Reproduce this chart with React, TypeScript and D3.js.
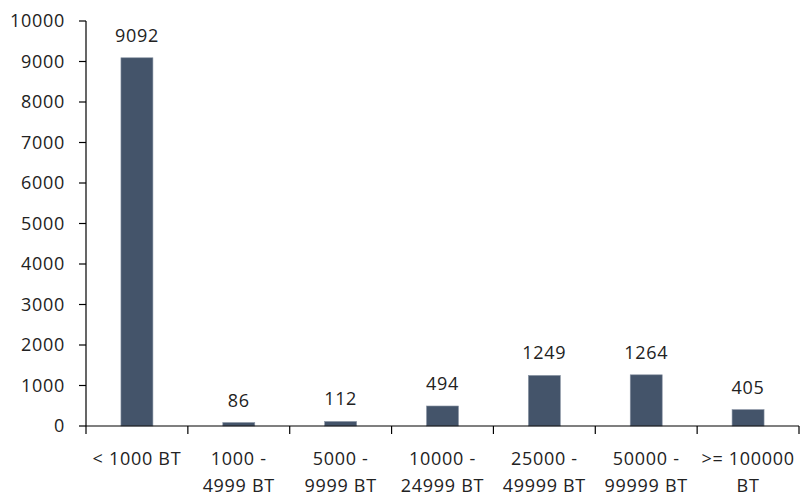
import React from "react";
import * as d3 from "d3";

const categories: string[][] = [
  ["< 1000 BT"],
  ["1000 -", "4999 BT"],
  ["5000 -", "9999 BT"],
  ["10000 -", "24999 BT"],
  ["25000 -", "49999 BT"],
  ["50000 -", "99999 BT"],
  [">= 100000", "BT"],
];
const counts: number[] = [9092, 86, 112, 494, 1249, 1264, 405];
const yTicks: number[] = [0, 1000, 2000, 3000, 4000, 5000, 6000, 7000, 8000, 9000, 10000];

const W = 803;
const H = 497;
const FONT = "'Open Sans', Tahoma, sans-serif";
const FS = 18;
const LS = 0.7;
const INK = "#222222";
const BAR = "#44546A";

export default function App() {
  const left = 86;
  const right = 799;
  const top = 21;
  const bottom = 426;

  const keys = categories.map((_, i) => String(i));
  const x = d3.scaleBand<string>().domain(keys).range([left, right]).paddingInner(0.686).paddingOuter(0.343);
  const band = d3.scaleBand<string>().domain(keys).range([left, right]);
  const y = d3.scaleLinear().domain([0, 10000]).range([bottom, top]);

  const textProps = {
    fontFamily: FONT,
    fontSize: FS,
    letterSpacing: LS,
    fill: INK,
  };

  return (
    <svg width={W} height={H} style={{ position: "absolute", left: 0, top: 0 }}>
      <rect width={W} height={H} fill="#ffffff" />
      {counts.map((v, i) => (
        <g key={i}>
          <rect
            x={x(String(i))!}
            y={y(v)}
            width={x.bandwidth()}
            height={bottom - y(v)}
            fill={BAR}
            stroke="#8a95a5"
            strokeWidth={0.6}
          />
          <text
            x={x(String(i))! + x.bandwidth() / 2}
            y={y(v) - 16}
            textAnchor="middle"
            {...textProps}
          >
            {v}
          </text>
        </g>
      ))}
      {/* y axis */}
      <line x1={left} x2={left} y1={top} y2={bottom} stroke="#000" strokeWidth={1.2} />
      {yTicks.map((t) => (
        <g key={t}>
          <line x1={left - 7} x2={left} y1={y(t)} y2={y(t)} stroke="#000" strokeWidth={1.2} />
          <text x={65} y={y(t)} dy="0.36em" textAnchor="end" {...textProps}>
            {t}
          </text>
        </g>
      ))}
      {/* x axis */}
      <line x1={left} x2={right} y1={bottom} y2={bottom} stroke="#000" strokeWidth={1.2} />
      {[...keys.map((k) => band(k)!), right].map((px, i) => (
        <line key={i} x1={px} x2={px} y1={bottom} y2={bottom + 8} stroke="#000" strokeWidth={1.2} />
      ))}
      {categories.map((lines, i) => (
        <text
          key={i}
          x={band(String(i))! + band.bandwidth() / 2}
          y={465}
          textAnchor="middle"
          {...textProps}
        >
          {lines.map((l, j) => (
            <tspan key={j} x={band(String(i))! + band.bandwidth() / 2} y={465 + j * 27}>
              {l}
            </tspan>
          ))}
        </text>
      ))}
    </svg>
  );
}
